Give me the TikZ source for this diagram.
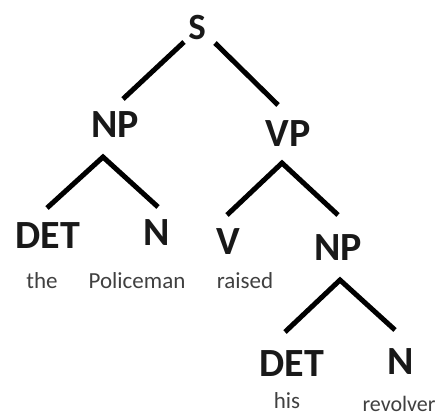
\documentclass[tikz,border=0pt]{standalone}
\usepackage{fontspec}
\setmainfont{Carlito}
\begin{document}
\begin{tikzpicture}[x=1pt,y=-1pt,
  cat/.style={inner sep=0pt,font=\fontsize{40}{40}\selectfont\bfseries,text=black!90},
  word/.style={inner sep=0pt,font=\fontsize{23}{23}\selectfont,text=black!75},
  branch/.style={line width=5pt,black}]
\useasboundingbox (0,0) rectangle (442,416);
\node[cat,font=\fontsize{37}{37}\selectfont\bfseries] (S) at (197,27) {S};
\node[cat] (NP1) at (115,125) {NP};
\node[cat] (VP) at (288,134) {VP};
\node[cat] (DET1) at (48,236) {DET};
\node[cat] (N1) at (157,233) {N};
\node[cat] (V) at (228,242) {V};
\node[cat] (NP2) at (338,248) {NP};
\node[cat] (DET2) at (292,364) {DET};
\node[cat] (N2) at (401,362) {N};
\node[word] (w1) at (42,281) {the};
\node[word] (w2) at (137,281) {Policeman};
\node[word] (w3) at (245,281) {raised};
\node[word] (w4) at (287,401) {his};
\node[word,font=\fontsize{22}{22}\selectfont] (w5) at (399,404) {revolver};
% branch end points
\coordinate (sL) at (184,42);
\coordinate (sR) at (215,43);
\coordinate (np1top) at (123,99);
\coordinate (vptop) at (278,105);
\coordinate (np1apex) at (103,157);
\coordinate (det1top) at (47,208);
\coordinate (n1top) at (158,207);
\coordinate (vpapex) at (282,163);
\coordinate (vtop) at (227,215);
\coordinate (np2top) at (338,215);
\coordinate (np2apex) at (340,280);
\coordinate (det2top) at (285,332);
\coordinate (n2top) at (395,330);
\draw[branch] (sL) -- (np1top);
\draw[branch] (sR) -- (vptop);
\draw[branch] (det1top) -- (np1apex) -- (n1top);
\draw[branch] (vtop) -- (vpapex) -- (np2top);
\draw[branch] (det2top) -- (np2apex) -- (n2top);
\end{tikzpicture}
\end{document}
